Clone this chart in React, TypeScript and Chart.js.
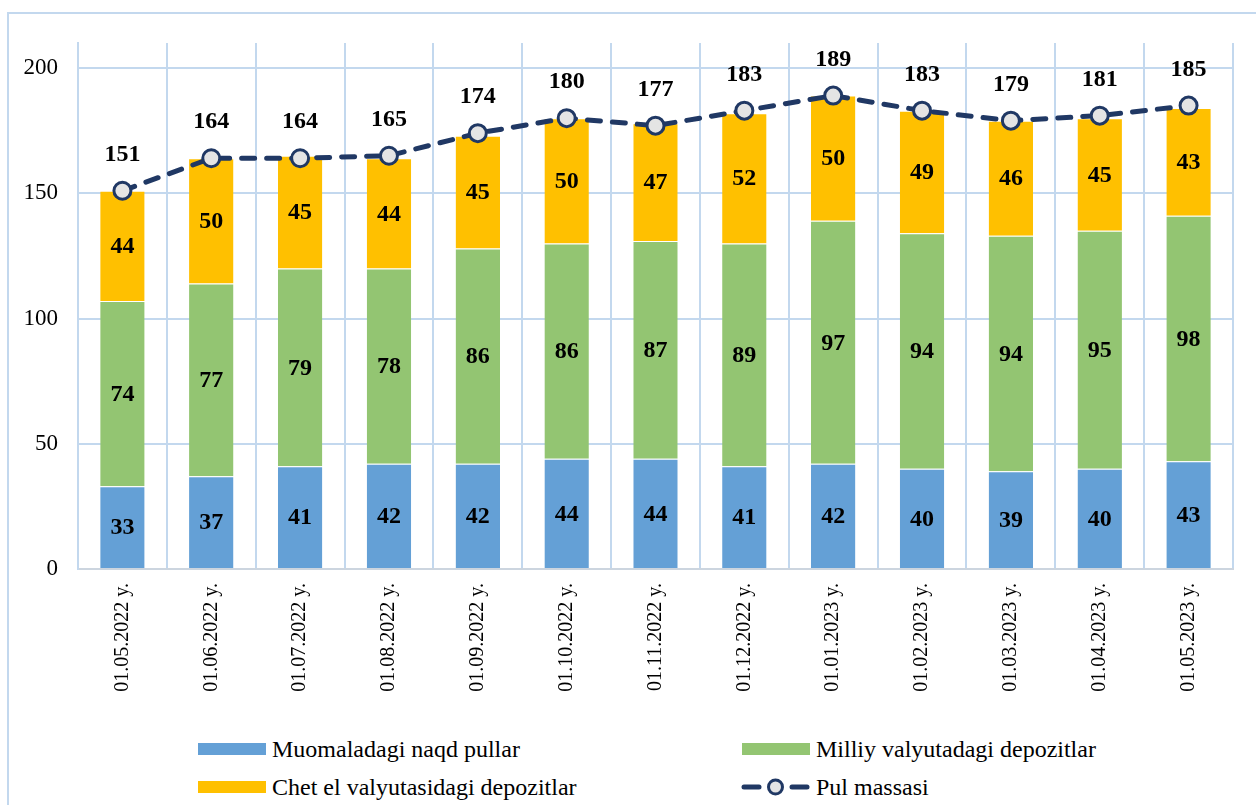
import React, { useEffect, useRef } from "react";
import { Chart, registerables } from "chart.js";

Chart.register(...registerables);

const categories = [
  "01.05.2022 y.", "01.06.2022 y.", "01.07.2022 y.", "01.08.2022 y.", "01.09.2022 y.",
  "01.10.2022 y.", "01.11.2022 y.", "01.12.2022 y.", "01.01.2023 y.", "01.02.2023 y.",
  "01.03.2023 y.", "01.04.2023 y.", "01.05.2023 y.",
];
const cashValues = [33, 37, 41, 42, 42, 44, 44, 41, 42, 40, 39, 40, 43];
const nationalValues = [74, 77, 79, 78, 86, 86, 87, 89, 97, 94, 94, 95, 98];
const foreignValues = [44, 50, 45, 44, 45, 50, 47, 52, 50, 49, 46, 45, 43];
const totalValues = [151, 164, 164, 165, 174, 180, 177, 183, 189, 183, 179, 181, 185];
const yTickValues = [0, 50, 100, 150, 200];
const seriesNames = [
  "Muomaladagi naqd pullar",
  "Milliy valyutadagi depozitlar",
  "Chet el valyutasidagi depozitlar",
  "Pul massasi",
];

const BLUE = "#64A0D6";
const GREEN = "#93C572";
const YELLOW = "#FFC000";
const NAVY = "#203864";
const POINT_FILL = "#E4E4E4";
const GRID = "#C3D8EE";
const AXIS = "#CCD5DF";
const FONT = '"Liberation Serif", "Times New Roman", serif';

const labelPlugin = {
  id: "valueLabels",
  afterDatasetsDraw(chart: any) {
    const ctx = chart.ctx;
    ctx.save();
    ctx.font = `bold 24px ${FONT}`;
    ctx.fillStyle = "#000";
    ctx.textAlign = "center";
    ctx.textBaseline = "middle";
    chart.data.datasets.forEach((ds: any, di: number) => {
      const meta = chart.getDatasetMeta(di);
      meta.data.forEach((el: any, i: number) => {
        const v = ds.data[i];
        if (ds.type === "line") {
          ctx.fillText(String(v), el.x, el.y - 36);
        } else {
          ctx.fillText(String(v), el.x, (el.y + el.base) / 2 + 1);
        }
      });
    });
    ctx.restore();
  },
};

function LineIcon() {
  return (
    <svg width={70} height={20} style={{ display: "block" }}>
      <line x1={3} y1={10} x2={18} y2={10} stroke={NAVY} strokeWidth={5} strokeLinecap="round" />
      <line x1={51} y1={10} x2={66} y2={10} stroke={NAVY} strokeWidth={5} strokeLinecap="round" />
      <circle cx={34.5} cy={10} r={7} fill={POINT_FILL} stroke={NAVY} strokeWidth={3} />
    </svg>
  );
}

function LegendItem({ left, top, name, color, line }: any) {
  return (
    <div
      style={{
        position: "absolute",
        left,
        top,
        height: 30,
        display: "flex",
        alignItems: "center",
        fontFamily: FONT,
        fontSize: 24,
        color: "#000",
        whiteSpace: "nowrap",
      }}
    >
      {line ? (
        <LineIcon />
      ) : (
        <div style={{ width: 68, height: 12, background: color, marginLeft: 1, marginRight: 1 }} />
      )}
      <span style={{ marginLeft: 5 }}>{name}</span>
    </div>
  );
}

export default function App() {
  const canvasRef = useRef<HTMLCanvasElement | null>(null);

  useEffect(() => {
    if (!canvasRef.current) return;
    const barCommon = {
      type: "bar",
      stack: "s",
      order: 1,
      barPercentage: 0.5,
      categoryPercentage: 1,
      borderColor: "rgba(255,255,255,0.55)",
      borderWidth: { top: 1, bottom: 0, left: 0, right: 0 },
    };
    const chart = new Chart(canvasRef.current, {
      type: "bar",
      data: {
        labels: categories,
        datasets: [
          {
            type: "line",
            label: seriesNames[3],
            data: totalValues,
            borderColor: NAVY,
            borderWidth: 5,
            borderDash: [13, 12],
            borderCapStyle: "round",
            pointRadius: 8.5,
            pointBorderWidth: 3,
            pointBackgroundColor: POINT_FILL,
            pointBorderColor: NAVY,
            fill: false,
            tension: 0,
            order: 0,
          } as any,
          { ...barCommon, label: seriesNames[0], data: cashValues, backgroundColor: BLUE } as any,
          { ...barCommon, label: seriesNames[1], data: nationalValues, backgroundColor: GREEN } as any,
          { ...barCommon, label: seriesNames[2], data: foreignValues, backgroundColor: YELLOW } as any,
        ],
      },
      options: {
        animation: false,
        responsive: false,
        maintainAspectRatio: false,
        layout: { padding: { top: 43, right: 23, left: 8, bottom: 0 } },
        plugins: {
          legend: { display: false },
          tooltip: { enabled: false },
        },
        scales: {
          x: {
            stacked: true,
            grid: { color: GRID, lineWidth: 2, drawTicks: false, offset: true },
            border: { color: AXIS, width: 2 },
            ticks: {
              font: { family: FONT, size: 20 },
              color: "#000",
              minRotation: 90,
              maxRotation: 90,
              padding: 14,
              autoSkip: false,
            },
            afterFit: (scale: any) => {
              scale.height = 151;
            },
          },
          y: {
            stacked: true,
            min: 0,
            max: 210,
            grid: { color: GRID, lineWidth: 2, drawTicks: false },
            border: { color: GRID, width: 2 },
            ticks: {
              stepSize: 50,
              font: { family: FONT, size: 23 },
              color: "#000",
              padding: 20,
            },
            afterBuildTicks: (scale: any) => {
              scale.ticks = yTickValues.map((v) => ({ value: v }));
            },
            afterFit: (scale: any) => {
              scale.width = 70;
            },
          },
        },
      },
      plugins: [labelPlugin],
    });
    return () => chart.destroy();
  }, []);

  return (
    <div
      style={{
        position: "absolute",
        left: 0,
        top: 0,
        width: 1256,
        height: 805,
        overflow: "hidden",
        background: "#fff",
      }}
    >
      <div
        style={{
          position: "absolute",
          left: 7,
          top: 12,
          width: 1400,
          height: 1000,
          border: `2px solid ${GRID}`,
          boxSizing: "border-box",
        }}
      />
      <canvas
        ref={canvasRef}
        width={1256}
        height={720}
        style={{ position: "absolute", left: 0, top: 0, width: 1256, height: 720 }}
      />
      <LegendItem left={197} top={734} name={seriesNames[0]} color={BLUE} />
      <LegendItem left={741} top={734} name={seriesNames[1]} color={GREEN} />
      <LegendItem left={197} top={772} name={seriesNames[2]} color={YELLOW} />
      <LegendItem left={741} top={772} name={seriesNames[3]} line />
    </div>
  );
}
